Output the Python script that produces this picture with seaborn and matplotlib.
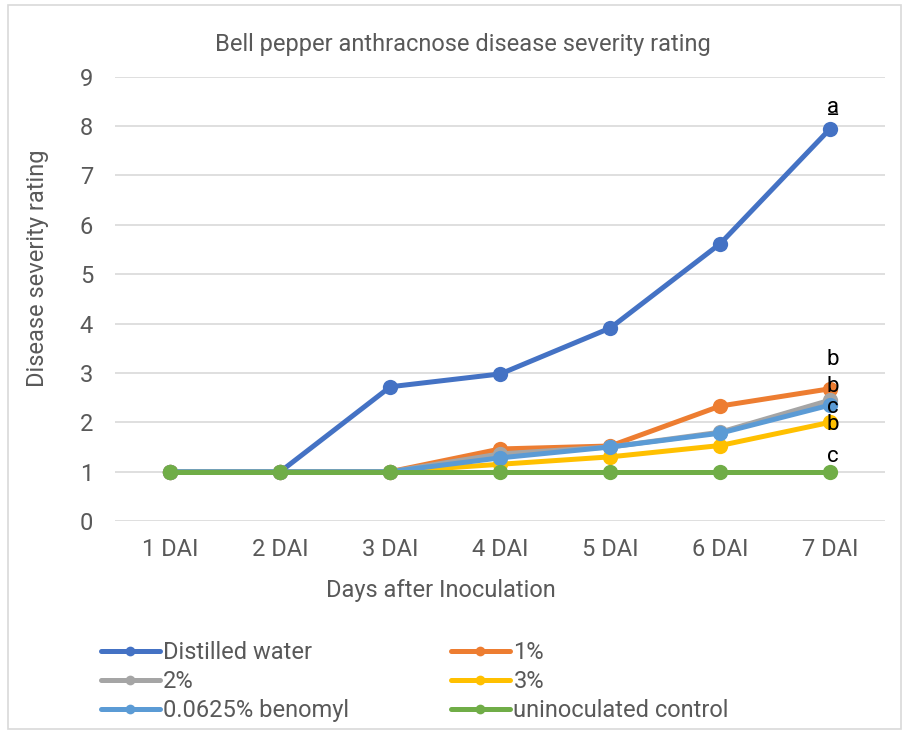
import matplotlib
matplotlib.use("Agg")
import matplotlib.pyplot as plt
import seaborn as sns
import pandas as pd
from matplotlib.lines import Line2D
from matplotlib.patches import Rectangle

days = ["1 DAI", "2 DAI", "3 DAI", "4 DAI", "5 DAI", "6 DAI", "7 DAI"]
distilled_water = [1, 1, 2.72, 2.98, 3.91, 5.62, 7.95]
pct1 = [1, 1, 1, 1.46, 1.52, 2.33, 2.68]
pct2 = [1, 1, 1, 1.36, 1.50, 1.80, 2.45]
pct3 = [1, 1, 1, 1.15, 1.30, 1.53, 2.00]
benomyl = [1, 1, 1, 1.28, 1.50, 1.78, 2.35]
control = [1, 1, 1, 1, 1, 1, 1]
series_names = ["Distilled water", "1%", "2%", "3%", "0.0625% benomyl", "uninoculated control"]
series_values = [distilled_water, pct1, pct2, pct3, benomyl, control]
colors = ["#4472C4", "#ED7D31", "#A5A5A5", "#FFC000", "#5B9BD5", "#70AD47"]
letters = ["a", "b", "c", "b", "b", "c"]
letter_y = [8.38, 3.27, 2.29, 1.95, 2.72, 1.30]
yticks = list(range(0, 10))

rows = []
for name, vals in zip(series_names, series_values):
    for d, v in zip(days, vals):
        rows.append({"day": d, "value": v, "series": name})
df = pd.DataFrame(rows)

sns.set_theme(style="white")
plt.rcParams["font.family"] = ["Roboto", "DejaVu Sans"]
txt = "#595959"
fs = 17

fig = plt.figure(figsize=(9.08, 7.38), dpi=100)
ax = fig.add_axes([0.127, 0.294, 0.848, 0.602])

sns.lineplot(data=df, x="day", y="value", hue="series", style="series",
             hue_order=series_names, style_order=series_names,
             palette=colors, markers=["o"] * 6, dashes=False,
             linewidth=3.6, markersize=11, markeredgewidth=0,
             sort=False, ax=ax, legend=False)

ax.set_ylim(0, 9)
ax.set_xlim(-0.5, 6.5)
ax.set_yticks(yticks)
ax.yaxis.grid(True, color="#D9D9D9", linewidth=1.2)
ax.xaxis.grid(False)
for s in ax.spines.values():
    s.set_visible(False)
ax.tick_params(axis="both", length=0, labelsize=fs, colors=txt)
ax.tick_params(axis="x", pad=12)
ax.tick_params(axis="y", pad=16)
ax.set_xlabel("")
ax.set_ylabel("")
fig.text(441 / 908, 1 - 591 / 738, "Days after Inoculation", fontsize=fs, color=txt,
         ha="center", va="center")
fig.text(38 / 908, 1 - 268 / 738, "Disease severity rating", fontsize=fs, color=txt,
         ha="center", va="center", rotation=90)
fig.text(463 / 908, 1 - 44 / 738, "Bell pepper anthracnose disease severity rating",
         fontsize=fs, color=txt, ha="center", va="center")

for lab, ly in zip(letters, letter_y):
    ax.text(6.02, ly, lab, ha="center", va="center", fontsize=16, color="black")
    if lab == "a":
        ax.text(6.02, ly, "_", ha="center", va="center", fontsize=16, color="black")

order = [0, 2, 4, 1, 3, 5]
handles = [Line2D([0], [0], color=colors[i], linewidth=3.6, marker="o", markersize=7,
                  markeredgewidth=0) for i in order]
labels = [series_names[i] for i in order]
fig.legend(handles, labels, loc="upper left", bbox_to_anchor=(0.111, 0.131),
           ncol=2, frameon=False, fontsize=fs, labelcolor=txt, handlelength=2.5,
           handletextpad=0.15, columnspacing=4.3, labelspacing=0.25,
           borderaxespad=0, borderpad=0)

fig.patches.append(Rectangle((0.009, 0.012), 0.983, 0.981, transform=fig.transFigure,
                             fill=False, edgecolor="#D9D9D9", linewidth=1.2))

fig.savefig("out.png", dpi=100, facecolor="white")
